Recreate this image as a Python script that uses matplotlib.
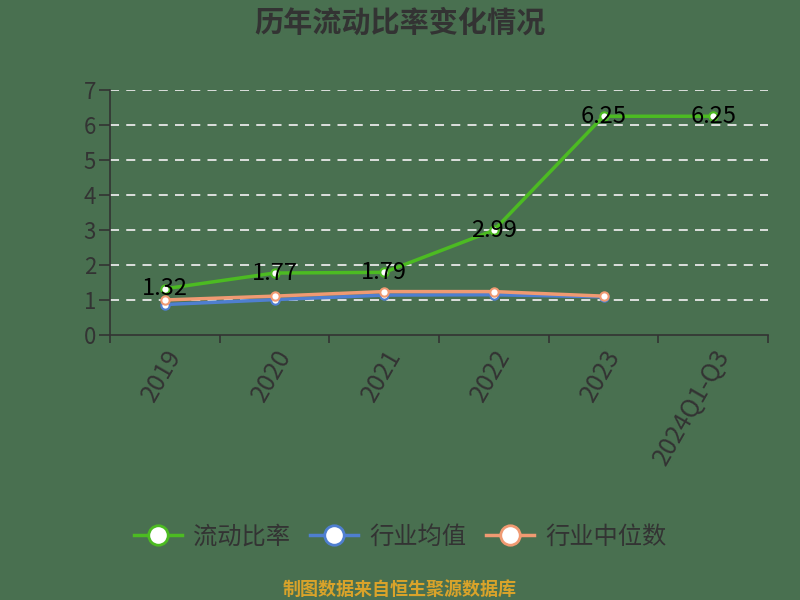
import matplotlib
matplotlib.use("Agg")
import matplotlib.pyplot as plt
from matplotlib.lines import Line2D

plt.rcParams['font.family'] = ['Noto Sans CJK SC', 'DejaVu Sans']

categories = ["2019", "2020", "2021", "2022", "2023", "2024Q1-Q3"]
current_ratio = [1.32, 1.77, 1.79, 2.99, 6.25, 6.25]
industry_avg = [0.87, 1.01, 1.14, 1.15, 1.09]
industry_median = [1.0, 1.11, 1.24, 1.24, 1.11]
yticks = [0, 1, 2, 3, 4, 5, 6, 7]

bg = '#497050'
green = '#4cbb22'
blue = '#4f7fd0'
orange = '#f09a72'
dark = '#333333'

fig = plt.figure(figsize=(8, 6), dpi=100, facecolor=bg)
ax = fig.add_axes([0.1375, 0.4417, 0.8225, 0.4083], facecolor=bg)

x = list(range(len(categories)))
ax.plot(x[:len(industry_avg)], industry_avg, color=blue, lw=2.5, marker='o', ms=6,
        mfc='white', mec=blue, mew=1.5, zorder=3)
ax.plot(x[:len(industry_median)], industry_median, color=orange, lw=2.5, marker='o', ms=6,
        mfc='white', mec=orange, mew=1.5, zorder=4)
ax.plot(x, current_ratio, color=green, lw=2.5, marker='o', ms=6,
        mfc='white', mec=green, mew=1.5, zorder=5)
for xi, v in zip(x, current_ratio):
    ax.text(xi, v, f"{v:.2f}", ha='center', va='center', fontsize=17,
            color='black', zorder=6)

ax.set_xlim(-0.5, len(categories) - 0.5)
ax.set_ylim(0, 7)
ax.set_yticks(yticks)
ax.set_yticklabels([str(t) for t in yticks], fontsize=16, color=dark)
ax.set_xticks([i - 0.5 for i in range(len(categories) + 1)], minor=False)
ax.set_xticklabels([])
ax.set_xticks(x, minor=True)
ax.set_xticklabels(categories, minor=True, rotation=60, ha='right', va='top',
                   rotation_mode='anchor', fontsize=18, color=dark)
ax.tick_params(axis='x', which='minor', length=0, pad=7)
ax.tick_params(axis='x', which='major', length=6, color=dark, width=1.2)
ax.tick_params(axis='y', length=8, color=dark, width=1.2, pad=2)

for t in yticks[1:]:
    ax.axhline(t, color='#e8e8e8', lw=1.3, ls=(0, (5, 4)), zorder=1)

for s in ['top', 'right']:
    ax.spines[s].set_visible(False)
ax.spines['left'].set_color(dark)
ax.spines['bottom'].set_color(dark)
ax.spines['left'].set_linewidth(1.2)
ax.spines['bottom'].set_linewidth(1.2)

fig.text(0.5, 0.962, "历年流动比率变化情况", ha='center', va='center', fontsize=21,
         fontweight='bold', color=dark)

handles = [
    Line2D([], [], color=green, lw=2.5, marker='o', ms=14, mfc='white', mec=green, mew=2),
    Line2D([], [], color=blue, lw=2.5, marker='o', ms=14, mfc='white', mec=blue, mew=2),
    Line2D([], [], color=orange, lw=2.5, marker='o', ms=14, mfc='white', mec=orange, mew=2),
]
leg = fig.legend(handles, ["流动比率", "行业均值", "行业中位数"], loc='center',
                 bbox_to_anchor=(0.5, 0.105), ncol=3, frameon=False, fontsize=17.5,
                 handlelength=2.0, columnspacing=0.8, handletextpad=0.45)
for t in leg.get_texts():
    t.set_color(dark)

fig.text(0.5, 0.017, "制图数据来自恒生聚源数据库", ha='center', va='center', fontsize=13,
         color='#d9a32a', fontweight='bold')

fig.savefig("out.png", dpi=100, facecolor=bg)
